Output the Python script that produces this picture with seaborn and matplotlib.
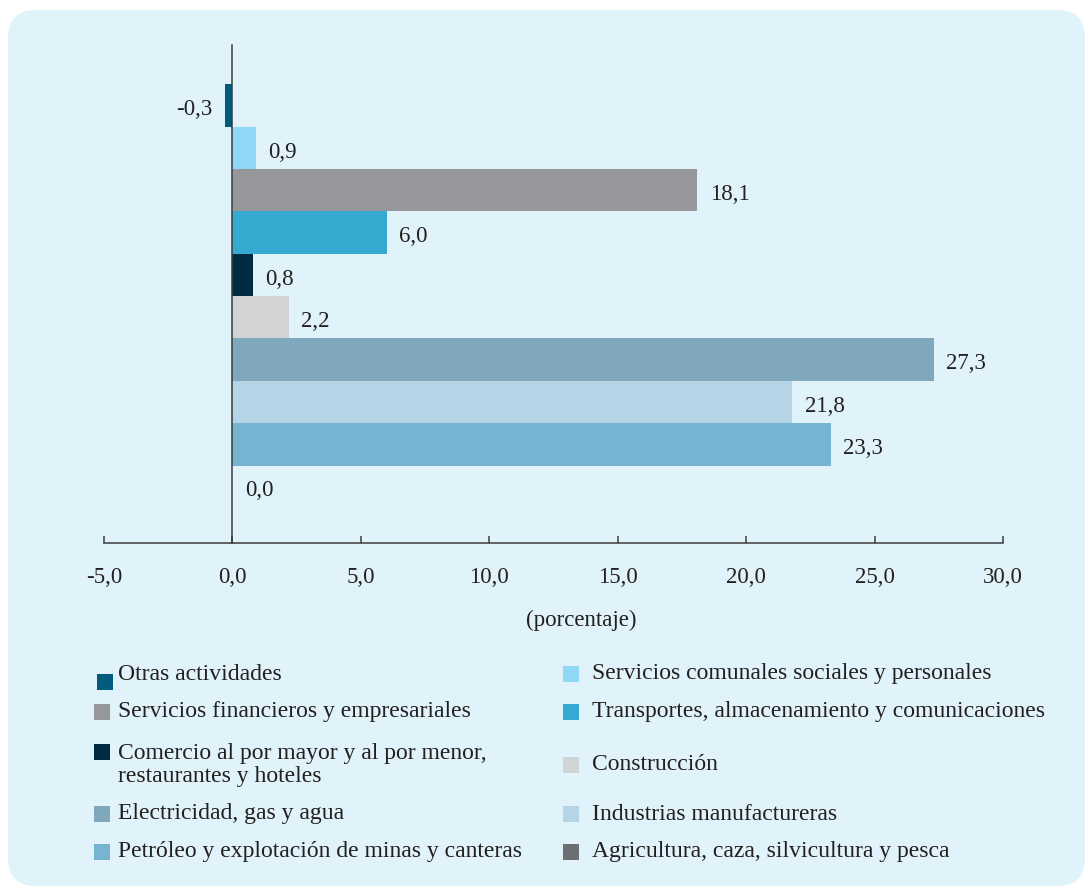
import matplotlib
matplotlib.use("Agg")
import matplotlib.pyplot as plt
import seaborn as sns
import pandas as pd
from matplotlib.patches import FancyBboxPatch, Rectangle

categories = [
    "Otras actividades",
    "Servicios comunales sociales y personales",
    "Servicios financieros y empresariales",
    "Transportes, almacenamiento y comunicaciones",
    "Comercio al por mayor y al por menor,\nrestaurantes y hoteles",
    "Construcción",
    "Electricidad, gas y agua",
    "Industrias manufactureras",
    "Petróleo y explotación de minas y canteras",
    "Agricultura, caza, silvicultura y pesca",
]
values = [-0.3, 0.9, 18.1, 6.0, 0.8, 2.2, 27.3, 21.8, 23.3, 0.0]
colors = ["#005B7F", "#8FD8F5", "#96979B", "#36A9D0", "#002C43",
          "#D2D3D5", "#7FA8BD", "#B5D4E5", "#77B4D2", "#6D6E71"]
xticks = [-5, 0, 5, 10, 15, 20, 25, 30]
xlabel = "(porcentaje)"

df = pd.DataFrame({"cat": categories, "val": values})

sns.set_theme(style="white")
plt.rcParams["font.family"] = ["Liberation Serif", "DejaVu Serif"]
FS = 16.5
LFS = 17
TXT = "#231F20"

W, H = 1090, 889
fig = plt.figure(figsize=(W / 100, H / 100), dpi=100)
fig.patch.set_facecolor("white")

bg = FancyBboxPatch((0.08, 0.03), 10.77, 8.76,
                    boxstyle="round,pad=0,rounding_size=0.28",
                    transform=fig.dpi_scale_trans, facecolor="#E0F3FA",
                    edgecolor="none", zorder=-10)
fig.patches.append(bg)

ax = fig.add_axes([104 / W, 1 - 543 / H, (1003 - 104) / W, (543 - 45) / H])
ax.set_facecolor("none")
ax.set_zorder(5)

sns.barplot(data=df, y="cat", x="val", hue="cat", palette=colors,
            order=categories, hue_order=categories, width=1.0,
            errorbar=None, legend=False, ax=ax, saturation=1,
            linewidth=0)

for cont in ax.containers:
    labs = [f"{v:.1f}".replace(".", ",") for v in cont.datavalues]
    texts = ax.bar_label(cont, labels=labs, padding=9, fontsize=FS, color=TXT)
    for t in texts:
        x, y = t.xyann
        t.xyann = (x, y - 3)

ax.set_xlim(-5, 30)
ax.set_ylim(10.33, -1.43)
ax.set_xticks(xticks)
ax.set_xticklabels([f"{t:.1f}".replace(".", ",") for t in xticks],
                   fontsize=FS, color=TXT)
ax.set_yticks([])
ax.set_ylabel("")
ax.set_xlabel(xlabel, fontsize=FS, color=TXT)
ax.xaxis.set_label_coords((581 - 104) / (1003 - 104), -0.135)

for s in ["top", "right"]:
    ax.spines[s].set_visible(False)
ax.spines["left"].set_position(("data", 0))
for s in ["left", "bottom"]:
    ax.spines[s].set_color("#3C3C3C")
    ax.spines[s].set_linewidth(1.1)
ax.tick_params(axis="x", direction="in", length=5, width=1.1,
               color="#3C3C3C", pad=17, bottom=True)

# legend (two columns, row-wise order)
rows_y = [674, 712, 765, 814, 852]
col_sq_x = [94, 563]
col_tx_x = [118, 592]
sq = 16
for i, (lab, col) in enumerate(zip(categories, colors)):
    r, c = divmod(i, 2)
    yc = rows_y[r]
    sq_y = 752 if "\n" in lab else yc
    sx = col_sq_x[c]
    if i == 0:
        sq_y = yc + 8
        sx = col_sq_x[c] + 3
    fig.add_artist(Rectangle((sx / 100, (H - sq_y - sq / 2) / 100), sq / 100, sq / 100,
                             transform=fig.dpi_scale_trans, facecolor=col,
                             edgecolor="none"))
    fig.text(col_tx_x[c] / 100, (H - yc) / 100, lab, transform=fig.dpi_scale_trans,
             va="center", ha="left", fontsize=LFS, color=TXT, linespacing=1.15)

fig.savefig("out.png", dpi=100, facecolor="white")
